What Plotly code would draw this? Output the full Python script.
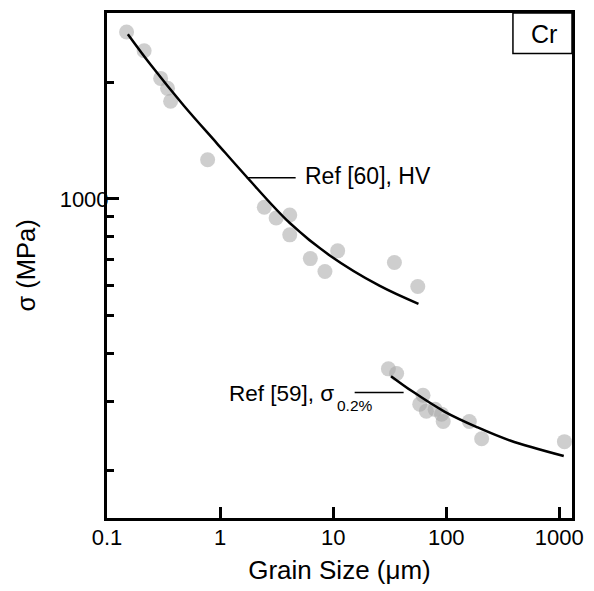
import plotly.graph_objects as go

# ---- data ----
hv_size = [0.149, 0.213, 0.298, 0.343, 0.365, 0.776, 2.46, 3.13, 4.13, 4.13, 10.96, 6.28, 8.46, 34.8, 56.0]
hv_sigma = [2693, 2409, 2044, 1927, 1785, 1262, 952, 893, 909, 808, 735, 702, 650, 686, 595]

hv_fit_size = [0.1529, 0.2464, 0.4786, 0.929, 1.745, 4.134, 9.47, 25.62, 56.8]
hv_fit_sigma = [2657, 2206, 1738, 1395, 1134, 867, 712.8, 597.6, 536.6]

ys_size = [30.8, 36.4, 62.3, 58.3, 66.7, 79.7, 90.9, 94.0, 160, 205.6, 1109]
ys_sigma = [365, 355, 312, 296, 284, 287, 279, 267, 267, 241, 237]

ys_fit_size = [32.5, 50.05, 97.2, 188.7, 366.3, 1094]
ys_fit_sigma = [349.5, 319.4, 282.9, 258.0, 238.6, 217.6]

x_ticks = [0.1, 1, 10, 100, 1000]
x_tick_text = ["0.1", "1", "10", "100", "1000"]
y_major = [1000]
y_major_text = ["1000"]
y_minor = [200, 300, 400, 500, 600, 700, 800, 900, 2000]

FONT = "Liberation Sans, Arial, sans-serif"
marker = dict(size=15, color="rgba(165,165,165,0.55)", line=dict(width=0))

fig = go.Figure()
fig.add_trace(go.Scatter(x=hv_size, y=hv_sigma, mode="markers", marker=marker, showlegend=False))
fig.add_trace(go.Scatter(x=ys_size, y=ys_sigma, mode="markers", marker=marker, showlegend=False))
fig.add_trace(go.Scatter(x=hv_fit_size, y=hv_fit_sigma, mode="lines",
                         line=dict(color="black", width=2.5, shape="spline", smoothing=1.0),
                         showlegend=False))
fig.add_trace(go.Scatter(x=ys_fit_size, y=ys_fit_sigma, mode="lines",
                         line=dict(color="black", width=2.5, shape="spline", smoothing=1.0),
                         showlegend=False))

fig.update_layout(
    width=594, height=591,
    margin=dict(l=107, r=12, t=10, b=71),
    paper_bgcolor="white", plot_bgcolor="white",
    font=dict(family=FONT, color="black"),
    xaxis=dict(
        type="log", range=[-1, 3.112],
        showgrid=False, zeroline=False,
        showline=True, linecolor="black", linewidth=3, mirror=True,
        ticks="inside", ticklen=11, tickwidth=3, tickcolor="black",
        tickvals=x_ticks, ticktext=x_tick_text,
        tickfont=dict(size=22, family=FONT), ticklabelstandoff=-2,
        title=dict(text="Grain Size (μm)", font=dict(size=26, family=FONT), standoff=12),
    ),
    yaxis=dict(
        type="log", range=[2.178, 3.479],
        showgrid=False, zeroline=False,
        showline=True, linecolor="black", linewidth=3, mirror=True,
        ticks="inside", ticklen=12, tickwidth=3, tickcolor="black",
        tickvals=y_major, ticktext=y_major_text,
        tickfont=dict(size=22, family=FONT), ticklabelstandoff=-9,
        minor=dict(tickmode="array", tickvals=y_minor, ticks="inside", ticklen=7,
                   tickwidth=2.5, tickcolor="black", showgrid=False),
        title=dict(text="σ (MPa)", font=dict(size=25.5, family=FONT), standoff=17),
    ),
    shapes=[
        dict(type="line", xref="paper", yref="paper", x0=0.3004, x1=0.4057, y0=0.6739, y1=0.6739,
             line=dict(color="black", width=1.5)),
        dict(type="line", xref="paper", yref="paper", x0=0.5326, x1=0.6379, y0=0.2484, y1=0.2484,
             line=dict(color="black", width=1.5)),
        dict(type="rect", xref="paper", yref="paper", x0=0.873, x1=1.0, y0=0.920, y1=1.0,
             line=dict(color="black", width=1.5), fillcolor="rgba(0,0,0,0)"),
    ],
    annotations=[
        dict(text="Ref [60], HV", xref="paper", yref="paper", x=0.4217, y=0.6765,
             xanchor="left", yanchor="middle", showarrow=False, font=dict(size=23, family=FONT)),
        dict(text="Ref [59], σ", xref="paper", yref="paper", x=0.2589, y=0.2471,
             xanchor="left", yanchor="middle", showarrow=False, font=dict(size=22.5, family=FONT)),
        dict(text="0.2%", xref="paper", yref="paper", x=0.4905, y=0.2225,
             xanchor="left", yanchor="middle", showarrow=False, font=dict(size=15.5, family=FONT)),
        dict(text="Cr", xref="paper", yref="paper", x=0.940, y=0.958,
             xanchor="center", yanchor="middle", showarrow=False, font=dict(size=25, family=FONT)),
    ],
)

fig.write_html("out.html")
